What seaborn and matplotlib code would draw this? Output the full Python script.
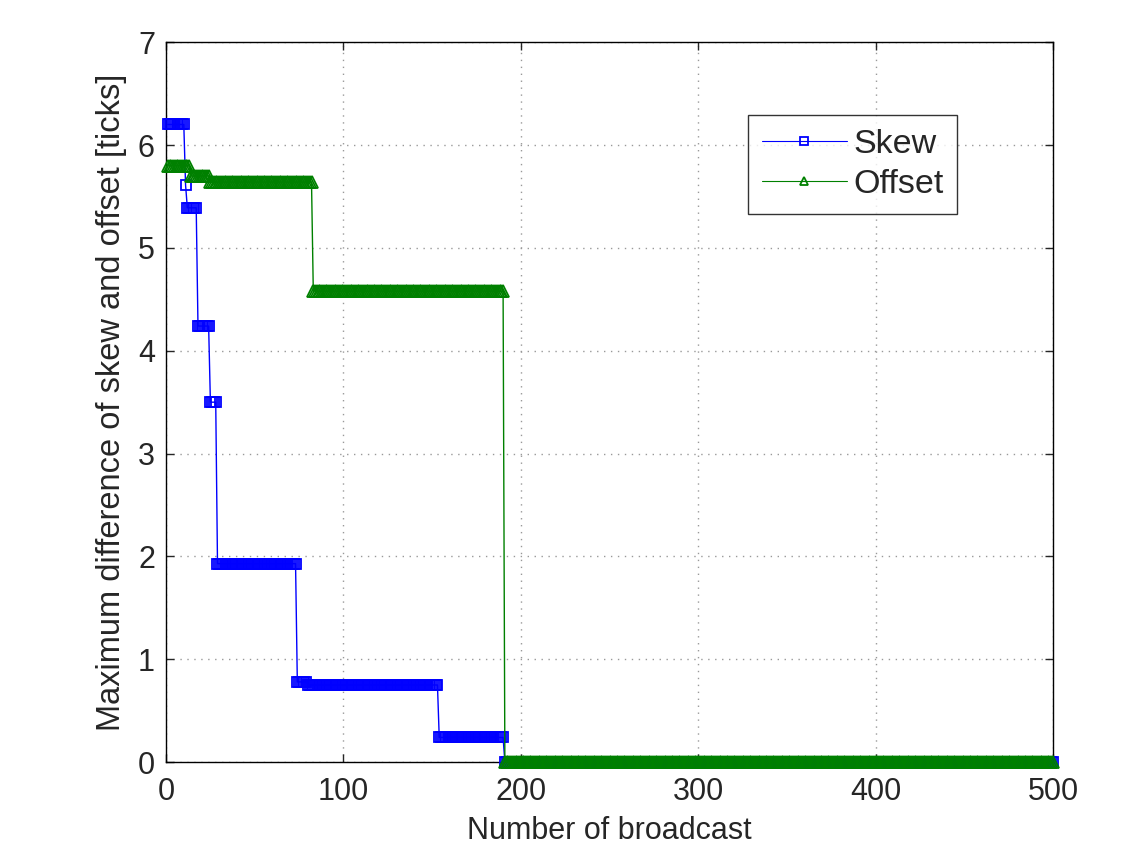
import numpy as np
import pandas as pd
import matplotlib
matplotlib.use("Agg")
import matplotlib.pyplot as plt
import seaborn as sns

# Step data: (first broadcast index of each level, level value)
skew_starts = [1, 11, 12, 18, 25, 29, 74, 80, 154, 191]
skew_values = [6.20, 5.61, 5.39, 4.24, 3.50, 1.93, 0.78, 0.75, 0.24, 0.0]
offset_starts = [1, 14, 25, 83, 191]
offset_values = [5.80, 5.70, 5.64, 4.58, 0.0]
n_broadcast = 500
x_ticks = [0, 100, 200, 300, 400, 500]
y_ticks = [0, 1, 2, 3, 4, 5, 6, 7]


def expand(starts, values, n):
    ends = starts[1:] + [n + 1]
    counts = [e - s for s, e in zip(starts, ends)]
    return np.repeat(values, counts)


x = np.arange(1, n_broadcast + 1)
df_skew = pd.DataFrame({"x": x, "y": expand(skew_starts, skew_values, n_broadcast)})
df_off = pd.DataFrame({"x": x, "y": expand(offset_starts, offset_values, n_broadcast)})

sns.set_style("white")
plt.rcParams["font.family"] = ["Liberation Sans", "DejaVu Sans"]

fig = plt.figure(figsize=(11.22, 8.44), dpi=100)
ax = fig.add_axes([0.148, 0.097, 0.7905, 0.853])

blue = (0, 0, 1)
green = (0, 0.5, 0)
sns.lineplot(data=df_skew, x="x", y="y", ax=ax, color=blue, lw=1.0,
             marker="s", markersize=7.5, markerfacecolor="none",
             markeredgecolor=blue, markeredgewidth=1.3, sort=False,
             estimator=None, label="Skew", clip_on=False, zorder=3)
sns.lineplot(data=df_off, x="x", y="y", ax=ax, color=green, lw=1.0,
             marker="^", markersize=8, markerfacecolor="none",
             markeredgecolor=green, markeredgewidth=1.3, sort=False,
             estimator=None, label="Offset", clip_on=False, zorder=3)

ax.set_xlim(0, 500)
ax.set_ylim(0, 7)
ax.set_xticks(x_ticks)
ax.set_yticks(y_ticks)
ax.tick_params(direction="in", length=6, width=1, labelsize=22,
               top=True, right=True, bottom=True, left=True)
ax.tick_params(axis="x", pad=11)
ax.tick_params(axis="y", pad=8)
ax.grid(True, linestyle=(0, (1, 4)), color="#999999", linewidth=1)
for s in ax.spines.values():
    s.set_visible(True)
    s.set_color("black")
    s.set_linewidth(1.0)
    s.set_zorder(2.5)

ax.set_xlabel("Number of broadcast", fontsize=22, labelpad=6)
ax.set_ylabel("Maximum difference of skew and offset [ticks]", fontsize=23.5, labelpad=8)

leg = ax.legend(loc="upper left", bbox_to_anchor=(0.656, 0.899), fontsize=24.5,
                frameon=True, fancybox=False, edgecolor="black",
                borderpad=0.4, handlelength=2.5, labelspacing=0.28,
                handletextpad=0.2, borderaxespad=0)
leg.get_frame().set_linewidth(1.0)
for h in leg.legend_handles:
    h.set_markersize(6)
    h.set_linewidth(0.8)

fig.savefig("out.png", dpi=100, facecolor="white")
